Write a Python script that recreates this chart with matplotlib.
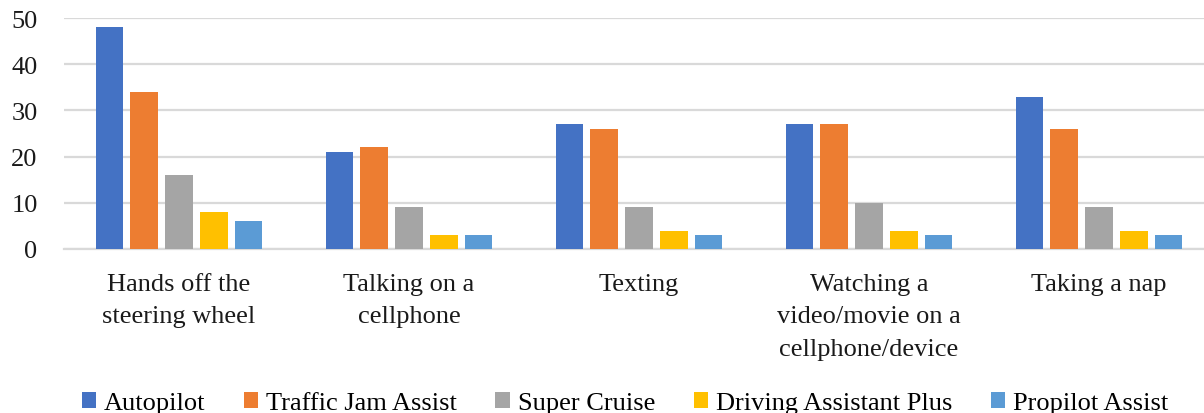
import matplotlib
matplotlib.use("Agg")
import matplotlib.pyplot as plt
import numpy as np

categories = ["Hands off the\nsteering wheel", "Talking on a\ncellphone", "Texting",
              "Watching a\nvideo/movie on a\ncellphone/device", "Taking a nap"]
series_names = ["Autopilot", "Traffic Jam Assist", "Super Cruise",
                "Driving Assistant Plus", "Propilot Assist"]
autopilot = [48, 21, 27, 27, 33]
traffic_jam_assist = [34, 22, 26, 27, 26]
super_cruise = [16, 9, 9, 10, 9]
driving_assistant_plus = [8, 3, 4, 4, 4]
propilot_assist = [6, 3, 3, 3, 3]
yticks = [0, 10, 20, 30, 40, 50]

series = [autopilot, traffic_jam_assist, super_cruise, driving_assistant_plus, propilot_assist]
colors = ["#4472C4", "#ED7D31", "#A5A5A5", "#FFC000", "#5B9BD5"]

plt.rcParams['font.family'] = ['Liberation Serif', 'DejaVu Serif']

W, H = 1204, 414
fig = plt.figure(figsize=(W / 100, H / 100), dpi=100)
ax = fig.add_axes([64 / W, 164 / H, 1150 / W, 231 / H])

x = np.arange(len(categories))
pitch = 0.152
bw = 0.118
for i, (vals, c, name) in enumerate(zip(series, colors, series_names)):
    ax.bar(x + (i - 2) * pitch, vals, width=bw, color=c, label=name, zorder=3)

ax.set_xlim(-0.5, len(categories) - 0.5)
ax.set_ylim(0, 50)
ax.set_yticks(yticks)
ax.yaxis.grid(True, color="#d9d9d9", linewidth=1.6, zorder=0)
ax.set_axisbelow(True)
for s in ["top", "right", "left"]:
    ax.spines[s].set_visible(False)
ax.spines["bottom"].set_color("#d9d9d9")
ax.spines["bottom"].set_linewidth(1.6)
ax.set_xticks(x)
ax.set_xticklabels(categories, fontsize=19, linespacing=1.63)
ax.tick_params(axis="both", length=0, labelsize=19, colors="#1a1a1a")
ax.tick_params(axis="x", pad=17)
ax.tick_params(axis="y", pad=19)

fig.legend(loc="center", bbox_to_anchor=(625 / W, 1 - 404 / H), ncol=5, frameon=False,
           fontsize=19, handlelength=0.55, handleheight=0.55, handletextpad=0.3,
           columnspacing=1.45)

fig.savefig("out.png", dpi=100)
